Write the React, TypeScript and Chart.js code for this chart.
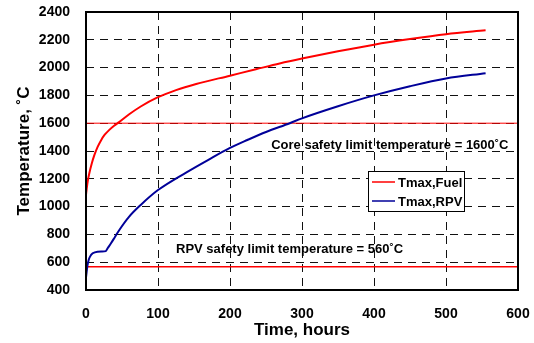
import React, { useEffect, useRef } from "react";
import { Chart, registerables } from "chart.js";

Chart.register(...registerables);

// ---- data ----
const fuelTime = [0, 1, 2.5, 4.6, 8, 11.6, 16, 21, 26, 32, 39, 46, 60, 76, 100, 125, 153, 200, 236, 269, 300, 350, 400, 450, 500, 555];
const fuelTemp = [1085, 1130, 1185, 1240, 1310, 1370, 1428, 1478, 1517, 1550, 1582, 1608, 1664, 1720, 1787, 1838, 1882, 1942, 1988, 2030, 2065, 2117, 2165, 2205, 2240, 2268];

const rpvTime = [0, 1, 2, 3.7, 5.6, 9.3, 16, 22, 27.5, 30, 34.7, 40, 46.3, 60, 76, 100, 139, 170, 200, 224, 250, 283, 300, 350, 400, 450, 500, 555];
const rpvTemp = [490, 535, 575, 616, 640, 664, 676, 677, 680, 700, 736, 780, 832, 928, 1012, 1119, 1245, 1337, 1422, 1479, 1537, 1600, 1635, 1722, 1800, 1866, 1922, 1960];

const limitRange = [0, 600];
const coreLimit = 1600;
const rpvLimitLine = 568;

const seriesLabels = ["Tmax,Fuel", "Tmax,RPV"];
const annotationTexts = ["Core safety limit temperature = 1600˚C", "RPV safety limit temperature = 560˚C"];
const annotationX = [422, 125];
const annotationY = [1443, 695];
const annotationAlign = ["center", "left"];

const xTitle = "Time, hours";
const yTitle = "Temperature, ˚C";

const FONT = "'Liberation Sans', Arial, Helvetica, sans-serif";

const toPoints = (xs: number[], ys: number[]) => xs.map((x, i) => ({ x, y: ys[i] }));

const framePlugin = {
  id: "frame",
  afterDraw(chart: any) {
    const { ctx, chartArea: a } = chart;
    ctx.save();
    ctx.strokeStyle = "#000";
    ctx.lineWidth = 2;
    ctx.strokeRect(a.left, a.top, a.right - a.left, a.bottom - a.top);
    ctx.restore();
  },
};

const annotationPlugin = {
  id: "annots",
  afterDatasetsDraw(chart: any) {
    const { ctx, scales } = chart;
    ctx.save();
    ctx.fillStyle = "#000";
    ctx.font = `bold 13px ${FONT}`;
    ctx.textBaseline = "middle";
    annotationTexts.forEach((t, i) => {
      ctx.textAlign = annotationAlign[i] as CanvasTextAlign;
      ctx.fillText(t, scales.x.getPixelForValue(annotationX[i]), scales.y.getPixelForValue(annotationY[i]));
    });
    ctx.restore();
  },
};

const legendPlugin = {
  id: "innerLegend",
  afterDraw(chart: any) {
    const { ctx, chartArea: a } = chart;
    const left = a.left + 282;
    const top = a.top + 159;
    const w = 96;
    const h = 40;
    ctx.save();
    ctx.fillStyle = "#fff";
    ctx.fillRect(left, top, w, h);
    ctx.strokeStyle = "#000";
    ctx.lineWidth = 1;
    ctx.strokeRect(left + 0.5, top + 0.5, w, h);
    ctx.font = `bold 13px ${FONT}`;
    ctx.textBaseline = "middle";
    ctx.textAlign = "left";
    chart.data.datasets
      .filter((d: any) => seriesLabels.includes(d.label))
      .forEach((d: any, i: number) => {
        const y = top + 11 + i * 19;
        ctx.strokeStyle = d.borderColor;
        ctx.lineWidth = 1.5;
        ctx.beginPath();
        ctx.moveTo(left + 4, y);
        ctx.lineTo(left + 27, y);
        ctx.stroke();
        ctx.fillStyle = "#000";
        ctx.fillText(d.label, left + 30, y + 1);
      });
    ctx.restore();
  },
};

const zeroPadding = (s: any) => {
  s.paddingTop = 0;
  s.paddingBottom = 0;
  s.paddingLeft = 0;
  s.paddingRight = 0;
};

export default function App() {
  const ref = useRef<HTMLCanvasElement | null>(null);
  useEffect(() => {
    document.body.style.margin = "0";
    if (!ref.current) return;
    const chart = new Chart(ref.current, {
      type: "scatter",
      data: {
        datasets: [
          {
            label: seriesLabels[0],
            data: toPoints(fuelTime, fuelTemp),
            showLine: true,
            borderColor: "#ff0000",
            borderWidth: 2,
            pointRadius: 0,
            cubicInterpolationMode: "monotone",
          },
          {
            label: seriesLabels[1],
            data: toPoints(rpvTime, rpvTemp),
            showLine: true,
            borderColor: "#000099",
            borderWidth: 2,
            pointRadius: 0,
            cubicInterpolationMode: "monotone",
          },
          {
            label: "core limit",
            data: toPoints(limitRange, [coreLimit, coreLimit]),
            showLine: true,
            borderColor: "#ff0000",
            borderWidth: 1,
            pointRadius: 0,
          },
          {
            label: "rpv limit",
            data: toPoints(limitRange, [rpvLimitLine, rpvLimitLine]),
            showLine: true,
            borderColor: "#ff0000",
            borderWidth: 1.5,
            pointRadius: 0,
          },
        ],
      },
      options: {
        animation: false,
        responsive: false,
        layout: { padding: { top: 12, right: 16, left: 0, bottom: 0 } },
        plugins: { legend: { display: false }, tooltip: { enabled: false } },
        scales: {
          x: {
            type: "linear",
            min: 0,
            max: 600,
            ticks: { stepSize: 100, color: "#000", font: { family: FONT, size: 14, weight: "bold" }, padding: 16, callback: (v: any) => String(v) },
            grid: { color: "#111", lineWidth: 1, drawTicks: false },
            border: { display: false, dash: [8, 6] },
            title: { display: true, text: xTitle, color: "#000", font: { family: FONT, size: 17, weight: "bold" }, padding: { top: 0, bottom: 2 } },
            afterFit(s: any) { s.height = 53; zeroPadding(s); },
          },
          y: {
            type: "linear",
            min: 400,
            max: 2400,
            ticks: { stepSize: 200, color: "#000", font: { family: FONT, size: 14, weight: "bold" }, padding: 16, callback: (v: any) => String(v) },
            grid: { color: "#111", lineWidth: 1, drawTicks: false },
            border: { display: false, dash: [8, 6] },
            title: { display: true, text: yTitle, color: "#000", font: { family: FONT, size: 17, weight: "bold" }, padding: { top: 14, bottom: 0 } },
            afterFit(s: any) { s.width = 86; zeroPadding(s); },
          },
        },
      },
      plugins: [annotationPlugin, framePlugin, legendPlugin],
    } as any);
    return () => chart.destroy();
  }, []);
  return (
    <div style={{ position: "absolute", left: 0, top: 0, width: 534, height: 343, background: "#fff" }}>
      <canvas ref={ref} width={534} height={343} />
    </div>
  );
}
